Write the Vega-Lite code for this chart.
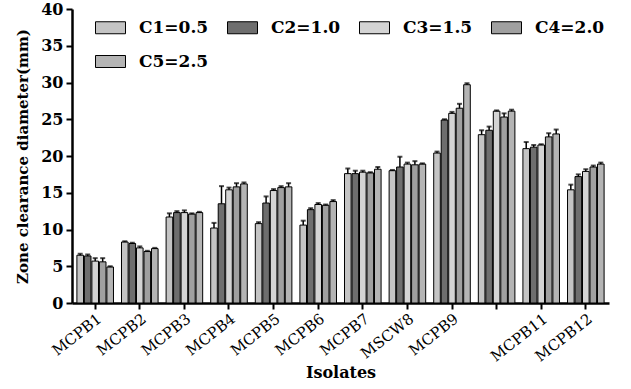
{
  "$schema": "https://vega.github.io/schema/vega-lite/v6.json",
  "autosize": "none",
  "padding": {"left": 72, "top": 9, "right": 22, "bottom": 86},
  "width": 537,
  "height": 294,
  "background": "white",
  "config": {
    "view": {"stroke": null},
    "font": "DejaVu Serif",
    "axis": {"labelFont": "DejaVu Serif", "titleFont": "DejaVu Serif"},
    "legend": {"labelFont": "DejaVu Serif"}
  },
  "data": {
    "values": [
      {"isolate": "MCPB1", "conc": "C1=0.5", "mean": 6.5, "err": 0.2},
      {"isolate": "MCPB1", "conc": "C2=1.0", "mean": 6.4, "err": 0.2},
      {"isolate": "MCPB1", "conc": "C3=1.5", "mean": 5.7, "err": 0.4},
      {"isolate": "MCPB1", "conc": "C4=2.0", "mean": 5.6, "err": 0.5},
      {"isolate": "MCPB1", "conc": "C5=2.5", "mean": 4.9, "err": 0.1},
      {"isolate": "MCPB2", "conc": "C1=0.5", "mean": 8.3, "err": 0.1},
      {"isolate": "MCPB2", "conc": "C2=1.0", "mean": 8.1, "err": 0.1},
      {"isolate": "MCPB2", "conc": "C3=1.5", "mean": 7.5, "err": 0.2},
      {"isolate": "MCPB2", "conc": "C4=2.0", "mean": 7.0, "err": 0.1},
      {"isolate": "MCPB2", "conc": "C5=2.5", "mean": 7.4, "err": 0.1},
      {"isolate": "MCPB3", "conc": "C1=0.5", "mean": 11.7, "err": 0.5},
      {"isolate": "MCPB3", "conc": "C2=1.0", "mean": 12.3, "err": 0.2},
      {"isolate": "MCPB3", "conc": "C3=1.5", "mean": 12.3, "err": 0.3},
      {"isolate": "MCPB3", "conc": "C4=2.0", "mean": 12.1, "err": 0.1},
      {"isolate": "MCPB3", "conc": "C5=2.5", "mean": 12.3, "err": 0.1},
      {"isolate": "MCPB4", "conc": "C1=0.5", "mean": 10.2, "err": 0.7},
      {"isolate": "MCPB4", "conc": "C2=1.0", "mean": 13.5, "err": 2.4},
      {"isolate": "MCPB4", "conc": "C3=1.5", "mean": 15.4, "err": 0.3},
      {"isolate": "MCPB4", "conc": "C4=2.0", "mean": 15.8, "err": 0.5},
      {"isolate": "MCPB4", "conc": "C5=2.5", "mean": 16.2, "err": 0.2},
      {"isolate": "MCPB5", "conc": "C1=0.5", "mean": 10.8, "err": 0.2},
      {"isolate": "MCPB5", "conc": "C2=1.0", "mean": 13.6, "err": 0.9},
      {"isolate": "MCPB5", "conc": "C3=1.5", "mean": 15.3, "err": 0.2},
      {"isolate": "MCPB5", "conc": "C4=2.0", "mean": 15.7, "err": 0.2},
      {"isolate": "MCPB5", "conc": "C5=2.5", "mean": 15.8, "err": 0.5},
      {"isolate": "MCPB6", "conc": "C1=0.5", "mean": 10.6, "err": 0.6},
      {"isolate": "MCPB6", "conc": "C2=1.0", "mean": 12.7, "err": 0.2},
      {"isolate": "MCPB6", "conc": "C3=1.5", "mean": 13.4, "err": 0.2},
      {"isolate": "MCPB6", "conc": "C4=2.0", "mean": 13.3, "err": 0.1},
      {"isolate": "MCPB6", "conc": "C5=2.5", "mean": 13.8, "err": 0.2},
      {"isolate": "MCPB7", "conc": "C1=0.5", "mean": 17.6, "err": 0.7},
      {"isolate": "MCPB7", "conc": "C2=1.0", "mean": 17.6, "err": 0.4},
      {"isolate": "MCPB7", "conc": "C3=1.5", "mean": 17.8, "err": 0.2},
      {"isolate": "MCPB7", "conc": "C4=2.0", "mean": 17.7, "err": 0.1},
      {"isolate": "MCPB7", "conc": "C5=2.5", "mean": 18.2, "err": 0.3},
      {"isolate": "MSCW8", "conc": "C1=0.5", "mean": 18.0, "err": 0.1},
      {"isolate": "MSCW8", "conc": "C2=1.0", "mean": 18.5, "err": 1.4},
      {"isolate": "MSCW8", "conc": "C3=1.5", "mean": 18.9, "err": 0.2},
      {"isolate": "MSCW8", "conc": "C4=2.0", "mean": 18.8, "err": 0.5},
      {"isolate": "MSCW8", "conc": "C5=2.5", "mean": 18.9, "err": 0.1},
      {"isolate": "MCPB9", "conc": "C1=0.5", "mean": 20.4, "err": 0.2},
      {"isolate": "MCPB9", "conc": "C2=1.0", "mean": 24.9, "err": 0.1},
      {"isolate": "MCPB9", "conc": "C3=1.5", "mean": 25.8, "err": 0.2},
      {"isolate": "MCPB9", "conc": "C4=2.0", "mean": 26.5, "err": 0.6},
      {"isolate": "MCPB9", "conc": "C5=2.5", "mean": 29.7, "err": 0.2},
      {"isolate": "MCPB10", "conc": "C1=0.5", "mean": 22.9, "err": 0.6},
      {"isolate": "MCPB10", "conc": "C2=1.0", "mean": 23.5, "err": 0.5},
      {"isolate": "MCPB10", "conc": "C3=1.5", "mean": 26.1, "err": 0.1},
      {"isolate": "MCPB10", "conc": "C4=2.0", "mean": 25.3, "err": 0.5},
      {"isolate": "MCPB10", "conc": "C5=2.5", "mean": 26.1, "err": 0.2},
      {"isolate": "MCPB11", "conc": "C1=0.5", "mean": 21.0, "err": 0.9},
      {"isolate": "MCPB11", "conc": "C2=1.0", "mean": 21.2, "err": 0.3},
      {"isolate": "MCPB11", "conc": "C3=1.5", "mean": 21.5, "err": 0.1},
      {"isolate": "MCPB11", "conc": "C4=2.0", "mean": 22.6, "err": 0.5},
      {"isolate": "MCPB11", "conc": "C5=2.5", "mean": 23.0, "err": 0.6},
      {"isolate": "MCPB12", "conc": "C1=0.5", "mean": 15.4, "err": 0.7},
      {"isolate": "MCPB12", "conc": "C2=1.0", "mean": 17.2, "err": 0.3},
      {"isolate": "MCPB12", "conc": "C3=1.5", "mean": 17.9, "err": 0.3},
      {"isolate": "MCPB12", "conc": "C4=2.0", "mean": 18.5, "err": 0.2},
      {"isolate": "MCPB12", "conc": "C5=2.5", "mean": 18.9, "err": 0.2}
    ]
  },
  "transform": [{"calculate": "datum.mean + datum.err", "as": "upper"}],
  "encoding": {
    "x": {
      "field": "isolate",
      "type": "nominal",
      "sort": null,
      "scale": {"paddingInner": 0.18, "paddingOuter": 0.11},
      "axis": {
        "title": "Isolates",
        "titleFontSize": 16,
        "titleFontWeight": "bold",
        "titleColor": "black",
        "titlePadding": 0,
        "labelFontSize": 15,
        "labelColor": "black",
        "labelAngle": -38,
        "labelExpr": "datum.value == 'MCPB10' ? '' : datum.label",
        "domainColor": "black",
        "domainWidth": 2.5,
        "tickColor": "black",
        "tickWidth": 2,
        "tickSize": 6,
        "labelPadding": 2
      }
    },
    "xOffset": {"field": "conc", "type": "nominal", "scale": {"paddingInner": 0.12}}
  },
  "layer": [
    {
      "mark": {"type": "bar", "stroke": "black", "strokeWidth": 1},
      "encoding": {
        "y": {
          "field": "mean",
          "type": "quantitative",
          "scale": {"domain": [0, 40]},
          "axis": {
            "title": "Zone clearance diameter(mm)",
            "titleFontSize": 15,
            "titleFontWeight": "bold",
            "titleColor": "black",
            "titlePadding": 10,
            "values": [0, 5, 10, 15, 20, 25, 30, 35, 40],
            "labelOverlap": false,
            "labelFontSize": 16,
            "labelFontWeight": "bold",
            "labelColor": "black",
            "grid": false,
            "domainColor": "black",
            "domainWidth": 2.5,
            "tickColor": "black",
            "tickWidth": 2,
            "tickSize": 6,
            "labelPadding": 3
          }
        },
        "fill": {
          "field": "conc",
          "type": "nominal",
          "scale": {"range": ["#c4c4c4", "#6e6e6e", "#d4d4d4", "#a0a0a0", "#b4b4b4"]},
          "legend": {
            "title": null,
            "orient": "none",
            "legendX": 23,
            "legendY": 3,
            "direction": "horizontal",
            "columns": 4,
            "columnPadding": 16,
            "rowPadding": 10,
            "symbolType": "M-1,-0.4L1,-0.4L1,0.4L-1,0.4Z",
            "symbolSize": 900,
            "symbolStrokeColor": "black",
            "symbolStrokeWidth": 1,
            "symbolOpacity": 1,
            "labelFontSize": 17,
            "labelFontWeight": "bold",
            "labelColor": "black",
            "labelOffset": 13
          }
        }
      }
    },
    {
      "mark": {"type": "rule", "color": "black", "strokeWidth": 1.5},
      "encoding": {
        "y": {"field": "mean", "type": "quantitative", "axis": {"title": "Zone clearance diameter(mm)", "values": [0, 5, 10, 15, 20, 25, 30, 35, 40], "labelOverlap": false}},
        "y2": {"field": "upper"}
      }
    },
    {
      "mark": {"type": "tick", "color": "black", "thickness": 2, "size": 5},
      "encoding": {
        "y": {"field": "upper", "type": "quantitative", "axis": {"title": "Zone clearance diameter(mm)", "values": [0, 5, 10, 15, 20, 25, 30, 35, 40], "labelOverlap": false}}
      }
    }
  ]
}
